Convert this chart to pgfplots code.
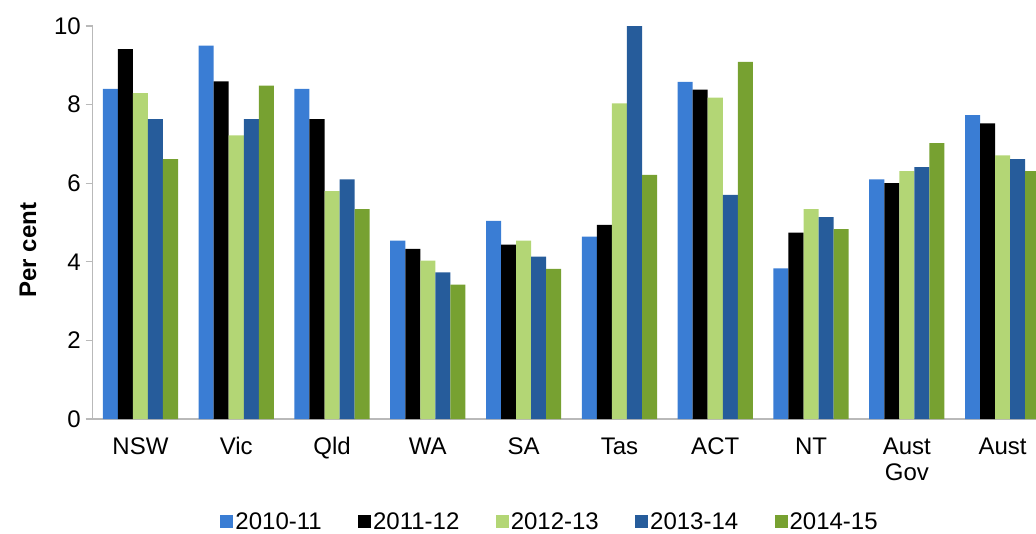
\documentclass[border=0pt]{standalone}
\usepackage{pgfplots}
\pgfplotsset{compat=1.18}
\usepackage{fontspec}
\setmainfont{Liberation Sans}
\newcommand\fs{\fontsize{18}{19.5}\selectfont}
\definecolor{cA}{HTML}{3A7DD4}
\definecolor{cB}{HTML}{000000}
\definecolor{cC}{HTML}{B3D675}
\definecolor{cD}{HTML}{265C9B}
\definecolor{cE}{HTML}{77A131}
\pgfplotsset{sq legend/.style={legend image code/.code={\fill[##1,draw=none] (0pt,-4.875pt) rectangle (9.75pt,4.875pt);}}}
\begin{document}
\begin{tikzpicture}
\begin{axis}[
  at={(0,0)}, anchor=south west,
  scale only axis, width=718.5pt, height=294.75pt,
  ybar=0pt, bar width=0.157,
  xmin=-0.5, xmax=9.5, ymin=0, ymax=10,
  ytick={0,2,...,10},
  xtick={0,...,9},
  xticklabels={\strut NSW,\strut Vic,\strut Qld,\strut WA,\strut SA,\strut Tas,\strut ACT,\strut NT,{\strut Aust\\Gov},\strut Aust},
  xticklabel style={align=center, font=\fs, yshift=-4pt},
  yticklabel style={font=\fs},
  /pgf/number format/assume math mode=true,
  axis x line*=bottom, axis y line*=left,
  axis line style={draw=gray!55, line width=0.8pt},
  x axis line style={-}, y axis line style={-},
  xtick style={draw=none},
  ytick style={draw=gray!55, line width=0.8pt},
  tick align=outside, major tick length=5.25pt,
  ylabel={\textbf{Per cent}},
  ylabel style={font=\fs, at={(axis description cs:-0.0673,0.43)}, anchor=center},
  legend columns=5,
  legend style={draw=none, font=\fs, at={(axis description cs:0.4776,-0.262)}, anchor=center,
    nodes={inner sep=1.5pt},
    /tikz/every even column/.append style={column sep=25.75pt}},
]
\addplot[fill=cA, draw=none, sq legend] coordinates {(0,8.4) (1,9.5) (2,8.4) (3,4.54) (4,5.04) (5,4.64) (6,8.58) (7,3.83) (8,6.1) (9,7.73)};
\addplot[fill=cB, draw=none, sq legend] coordinates {(0,9.41) (1,8.59) (2,7.63) (3,4.33) (4,4.44) (5,4.94) (6,8.38) (7,4.74) (8,6.0) (9,7.52)};
\addplot[fill=cC, draw=none, sq legend] coordinates {(0,8.29) (1,7.22) (2,5.8) (3,4.03) (4,4.54) (5,8.03) (6,8.18) (7,5.34) (8,6.31) (9,6.71)};
\addplot[fill=cD, draw=none, sq legend] coordinates {(0,7.63) (1,7.63) (2,6.1) (3,3.73) (4,4.13) (5,10.0) (6,5.7) (7,5.14) (8,6.41) (9,6.61)};
\addplot[fill=cE, draw=none, sq legend] coordinates {(0,6.61) (1,8.48) (2,5.34) (3,3.42) (4,3.82) (5,6.21) (6,9.09) (7,4.83) (8,7.02) (9,6.31)};
\legend{2010-11,2011-12,2012-13,2013-14,2014-15}
\end{axis}
\pgfresetboundingbox
\path (-69.4pt,-85.5pt) rectangle (707.6pt,314.25pt);
\end{tikzpicture}
\end{document}
